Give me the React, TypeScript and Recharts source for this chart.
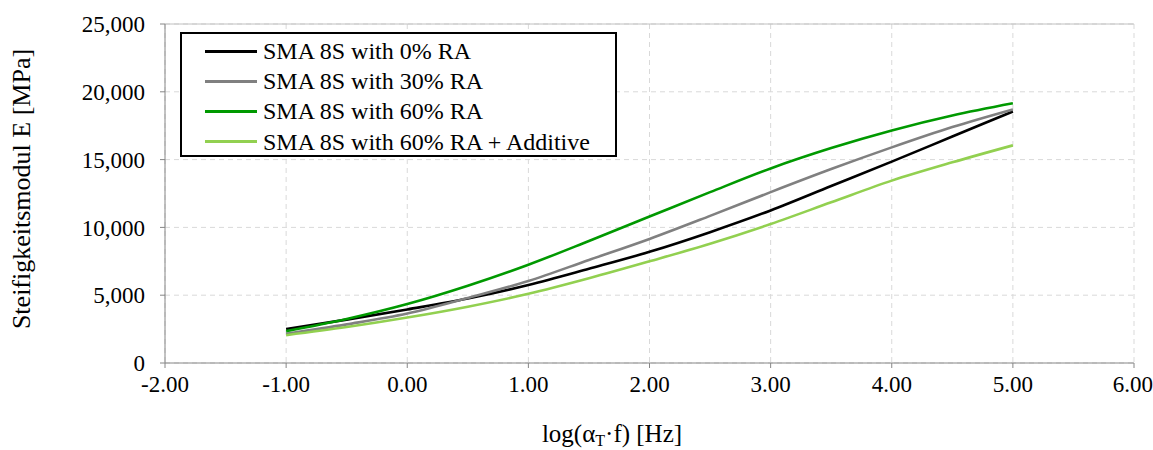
import React from 'react';
import { LineChart, Line, XAxis, YAxis, CartesianGrid, ReferenceLine } from 'recharts';

const xValues = [-1, -0.5, 0, 0.5, 1, 1.5, 2, 2.5, 3, 3.5, 4, 4.5, 5];
const ra0 = [2500, 3200, 3950, 4750, 5750, 6950, 8200, 9650, 11250, 13050, 14850, 16700, 18550];
const ra30 = [2150, 2850, 3650, 4800, 6050, 7600, 9150, 10850, 12600, 14300, 15900, 17400, 18700];
const ra60 = [2350, 3250, 4350, 5700, 7250, 9000, 10800, 12600, 14350, 15850, 17150, 18250, 19150];
const ra60add = [2050, 2650, 3350, 4150, 5100, 6250, 7500, 8800, 10250, 11850, 13450, 14800, 16050];
const xTicks = [-2, -1, 0, 1, 2, 3, 4, 5, 6];
const yTicks = [0, 5000, 10000, 15000, 20000, 25000];

const seriesNames = [
  'SMA 8S with 0% RA',
  'SMA 8S with 30% RA',
  'SMA 8S with 60% RA',
  'SMA 8S with 60% RA + Additive',
];
const seriesColors = ['#000000', '#808080', '#009900', '#92d050'];
const seriesKeys = ['ra0', 'ra30', 'ra60', 'ra60add'];

const data = xValues.map((x, i) => ({
  x,
  ra0: ra0[i],
  ra30: ra30[i],
  ra60: ra60[i],
  ra60add: ra60add[i],
}));

const FONT = '"Liberation Serif", "Times New Roman", serif';

const LegendBox = () => (
  <div
    style={{
      position: 'absolute',
      left: 180,
      top: 32,
      border: '2px solid #000',
      background: '#fff',
      width: 437,
      height: 125,
      boxSizing: 'border-box',
      padding: '2px 0 0 23px',
      fontFamily: FONT,
      fontSize: 24,
      color: '#000',
      lineHeight: '30px',
    }}
  >
    {seriesNames.map((n, i) => (
      <div key={n} style={{ display: 'flex', alignItems: 'center', height: 30.2, whiteSpace: 'nowrap' }}>
        <div style={{ width: 52, height: 3, background: seriesColors[i], marginRight: 6, flexShrink: 0 }} />
        <span>{n}</span>
      </div>
    ))}
  </div>
);

const XLabel = () => (
  <text x={612} y={442} textAnchor="middle" fontFamily={FONT} fontSize={25} fill="#000">
    log(α
    <tspan fontSize={16} dy={4}>T</tspan>
    <tspan dy={-4}>·f) [Hz]</tspan>
  </text>
);

const YLabel = () => (
  <text
    x={0}
    y={0}
    transform="translate(30,189) rotate(-90)"
    textAnchor="middle"
    fontFamily={FONT}
    fontSize={26}
    fill="#000"
  >
    Steifigkeitsmodul E [MPa]
  </text>
);

export default function App() {
  return (
    <div style={{ position: 'absolute', left: 0, top: 0, background: '#fff', width: 1153, height: 450 }}>
      <LineChart
        width={1153}
        height={450}
        data={data}
        margin={{ top: 24, right: 19, bottom: 0, left: 55 }}
      >
        <CartesianGrid stroke="#d9d9d9" strokeDasharray="5 4" />
        <ReferenceLine y={25000} stroke="#c0c0c0" strokeWidth={1} />
        <XAxis
          dataKey="x"
          type="number"
          domain={[-2, 6]}
          ticks={xTicks}
          tickFormatter={(v: number) => v.toFixed(2)}
          height={87}
          stroke="#868686"
          tickSize={5}
          tickMargin={8}
          tick={{ fill: '#000', fontFamily: FONT, fontSize: 23 }}
          label={<XLabel />}
        />
        <YAxis
          type="number"
          domain={[0, 25000]}
          ticks={yTicks}
          width={110}
          stroke="#868686"
          tickSize={5}
          tickMargin={15}
          tickFormatter={(v: number) => v.toLocaleString('en-US')}
          tick={{ fill: '#000', fontFamily: FONT, fontSize: 23 }}
          label={<YLabel />}
        />
        {seriesKeys.map((k, i) => (
          <Line
            key={k}
            dataKey={k}
            name={seriesNames[i]}
            type="monotone"
            stroke={seriesColors[i]}
            strokeWidth={2.6}
            dot={false}
            isAnimationActive={false}
          />
        ))}
      </LineChart>
      <LegendBox />
    </div>
  );
}
